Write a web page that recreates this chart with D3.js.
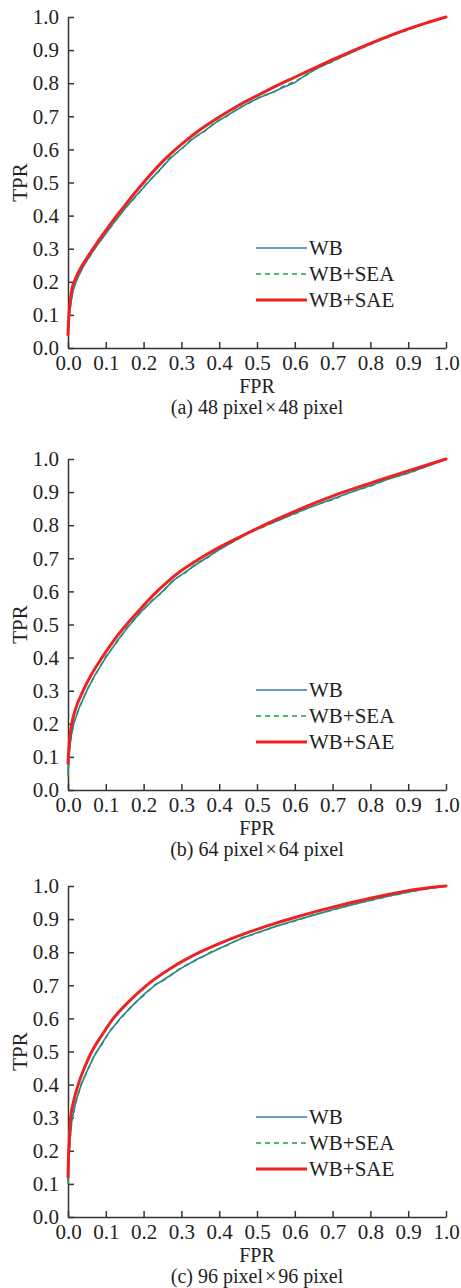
<!DOCTYPE html>
<html>
<head>
<meta charset="utf-8">
<script src="https://cdn.jsdelivr.net/npm/d3@7"></script>
<style>
	body { margin: 0; background: #fff; }
	svg text { font-family: "Liberation Serif", "Times New Roman", serif; fill: #222; }
	.axis path, .axis line { stroke: #333; stroke-width: 1.5; }
	.axis text { font-size: 21px; }
</style>
</head>
<body>
<div id="chart"></div>
<script>

// tick labels
var tickVals = [0, 0.1, 0.2, 0.3, 0.4, 0.5, 0.6, 0.7, 0.8, 0.9, 1.0]
var seriesNames = ["WB", "WB+SEA", "WB+SAE"]
var capLetters = ["(a)", "(b)", "(c)"]
var capSizes = [48, 64, 96]

// (a) 48 x 48
var fprA_sae = [0, 0.002, 0.005, 0.01, 0.02, 0.035, 0.05, 0.075, 0.1, 0.125, 0.15, 0.175, 0.2, 0.25, 0.3, 0.35, 0.4, 0.45, 0.5, 0.55, 0.6, 0.65, 0.7, 0.75, 0.8, 0.85, 0.9, 0.95, 1.0]
var tprA_sae = [0.04, 0.09, 0.13, 0.175, 0.21, 0.245, 0.272, 0.315, 0.355, 0.394, 0.43, 0.466, 0.5, 0.563, 0.615, 0.66, 0.698, 0.732, 0.762, 0.791, 0.818, 0.845, 0.871, 0.896, 0.92, 0.943, 0.964, 0.983, 1.0]
var fprA_wb = [0, 0.003, 0.008, 0.015, 0.025, 0.04, 0.06, 0.08, 0.1, 0.12, 0.15, 0.18, 0.21, 0.24, 0.27, 0.3, 0.33, 0.36, 0.39, 0.42, 0.45, 0.48, 0.51, 0.54, 0.57, 0.6, 0.63, 0.66, 0.7, 0.75, 0.8, 0.85, 0.9, 0.95, 1.0]
var tprA_wb = [0.05, 0.1, 0.14, 0.18, 0.21, 0.245, 0.282, 0.315, 0.345, 0.377, 0.42, 0.46, 0.498, 0.535, 0.572, 0.602, 0.632, 0.655, 0.68, 0.702, 0.722, 0.742, 0.758, 0.772, 0.788, 0.802, 0.826, 0.845, 0.867, 0.893, 0.918, 0.941, 0.962, 0.982, 1.0]
var tprA_sea = [0.04, 0.1, 0.142, 0.182, 0.212, 0.247, 0.28, 0.317, 0.347, 0.375, 0.422, 0.458, 0.5, 0.533, 0.575, 0.6, 0.634, 0.653, 0.683, 0.7, 0.724, 0.74, 0.76, 0.77, 0.791, 0.805, 0.824, 0.847, 0.865, 0.894, 0.917, 0.942, 0.961, 0.982, 1.0]

// (b) 64 x 64
var fprB_sae = [0, 0.002, 0.005, 0.01, 0.02, 0.04, 0.06, 0.09, 0.12, 0.155, 0.19, 0.225, 0.26, 0.3, 0.35, 0.4, 0.45, 0.5, 0.55, 0.6, 0.65, 0.7, 0.75, 0.8, 0.85, 0.9, 0.95, 1.0]
var tprB_sae = [0.08, 0.12, 0.16, 0.2, 0.245, 0.3, 0.345, 0.4, 0.45, 0.5, 0.545, 0.588, 0.626, 0.663, 0.7, 0.733, 0.762, 0.79, 0.817, 0.842, 0.866, 0.888, 0.908, 0.927, 0.946, 0.964, 0.982, 1.0]
var fprB_wb = [0, 0.003, 0.008, 0.015, 0.03, 0.05, 0.07, 0.1, 0.13, 0.16, 0.19, 0.22, 0.25, 0.28, 0.31, 0.34, 0.37, 0.4, 0.44, 0.48, 0.52, 0.56, 0.6, 0.65, 0.7, 0.75, 0.8, 0.85, 0.9, 0.95, 1.0]
var tprB_wb = [0.05, 0.11, 0.16, 0.2, 0.25, 0.3, 0.345, 0.4, 0.45, 0.494, 0.535, 0.568, 0.6, 0.634, 0.658, 0.682, 0.704, 0.726, 0.753, 0.777, 0.798, 0.816, 0.836, 0.858, 0.879, 0.9, 0.92, 0.94, 0.958, 0.978, 1.0]
var tprB_sea = [0.04, 0.11, 0.158, 0.203, 0.248, 0.302, 0.343, 0.403, 0.448, 0.496, 0.533, 0.57, 0.598, 0.636, 0.656, 0.685, 0.702, 0.728, 0.751, 0.779, 0.796, 0.818, 0.834, 0.86, 0.877, 0.901, 0.918, 0.941, 0.957, 0.978, 1.0]

// (c) 96 x 96
var fprC_sae = [0, 0.001, 0.003, 0.007, 0.015, 0.027, 0.045, 0.063, 0.09, 0.12, 0.16, 0.208, 0.27, 0.349, 0.4, 0.455, 0.5, 0.55, 0.6, 0.65, 0.7, 0.75, 0.8, 0.85, 0.9, 0.95, 1.0]
var tprC_sae = [0.12, 0.17, 0.22, 0.3, 0.35, 0.4, 0.455, 0.5, 0.55, 0.6, 0.65, 0.7, 0.75, 0.8, 0.826, 0.851, 0.869, 0.888, 0.905, 0.921, 0.936, 0.95, 0.963, 0.975, 0.986, 0.994, 1.0]
var fprC_wb = [0, 0.002, 0.005, 0.01, 0.02, 0.035, 0.05, 0.07, 0.09, 0.11, 0.14, 0.17, 0.2, 0.23, 0.26, 0.3, 0.34, 0.38, 0.42, 0.46, 0.5, 0.55, 0.6, 0.65, 0.7, 0.75, 0.8, 0.85, 0.9, 0.95, 1.0]
var tprC_wb = [0.11, 0.17, 0.23, 0.29, 0.345, 0.4, 0.44, 0.488, 0.525, 0.56, 0.603, 0.638, 0.672, 0.7, 0.722, 0.752, 0.778, 0.8, 0.822, 0.842, 0.859, 0.878, 0.896, 0.912, 0.928, 0.943, 0.957, 0.97, 0.982, 0.992, 1.0]
var tprC_sea = [0.1, 0.165, 0.228, 0.292, 0.343, 0.402, 0.438, 0.49, 0.522, 0.562, 0.6, 0.64, 0.669, 0.702, 0.72, 0.754, 0.776, 0.802, 0.82, 0.844, 0.857, 0.879, 0.894, 0.913, 0.927, 0.944, 0.956, 0.97, 0.981, 0.992, 1.0]

var colors = ["#2e78b7", "#1aa14a", "#ee2222"]

function zipPts (xs, ys) {
	return xs.map((x, i) => ({fpr: x, tpr: ys[i]}))
}

var panels = [
	{top: 17, wb: zipPts(fprA_wb, tprA_wb), sea: zipPts(fprA_wb, tprA_sea), sae: zipPts(fprA_sae, tprA_sae)},
	{top: 459, wb: zipPts(fprB_wb, tprB_wb), sea: zipPts(fprB_wb, tprB_sea), sae: zipPts(fprB_sae, tprB_sae)},
	{top: 886, wb: zipPts(fprC_wb, tprC_wb), sea: zipPts(fprC_wb, tprC_sea), sae: zipPts(fprC_sae, tprC_sae)}
]

var svg = d3.select("#chart")
	.append("svg")
	.attr("width", 461)
	.attr("height", 1288)

var margin = {left: 68},
    width = 378,
    height = 331

for (var i = 0 ; i < panels.length ; i++) {
	makePanel(panels[i], i)
}

function makePanel (p, num) {

	var g = svg.append("g")
		.attr("transform", "translate(" + margin.left + "," + p.top + ")")

	var x_scale = d3.scaleLinear().domain([0, 1]).range([0, width])
	var y_scale = d3.scaleLinear().domain([0, 1]).range([height, 0])

	// axes, ticks pointing inward
	g.append("g")
		.attr("class", "axis")
		.attr("transform", "translate(0," + height + ")")
		.call(d3.axisBottom(x_scale).tickValues(tickVals).tickFormat(d3.format(".1f"))
			.tickSizeInner(-6).tickSizeOuter(0).tickPadding(7))

	g.append("g")
		.attr("class", "axis")
		.call(d3.axisLeft(y_scale).tickValues(tickVals).tickFormat(d3.format(".1f"))
			.tickSizeInner(-6).tickSizeOuter(0).tickPadding(9))

	g.selectAll(".axis text").attr("fill", "#222")
	g.selectAll(".axis .domain").attr("stroke", "#333")

	g.append("text")
		.attr("transform", "translate(-41," + (height / 2) + ") rotate(-90)")
		.attr("text-anchor", "middle")
		.style("font-size", "21px")
		.text("TPR")

	g.append("text")
		.attr("x", width / 2)
		.attr("y", height + 45)
		.attr("text-anchor", "middle")
		.style("font-size", "20px")
		.text("FPR")

	var cap = g.append("text")
		.attr("x", width / 2)
		.attr("y", height + 66)
		.attr("text-anchor", "middle")
		.style("font-size", "20px")
	cap.append("tspan").text(capLetters[num] + " " + capSizes[num] + " pixel")
	cap.append("tspan").attr("dx", 2).text("×")
	cap.append("tspan").attr("dx", 2).text(capSizes[num] + " pixel")

	var line = d3.line()
		.x(d => x_scale(d.fpr))
		.y(d => y_scale(d.tpr))

	var smooth = d3.line()
		.x(d => x_scale(d.fpr))
		.y(d => y_scale(d.tpr))
		.curve(d3.curveMonotoneX)

	g.append("path")
		.attr("d", line(p.wb))
		.attr("fill", "none")
		.attr("stroke", colors[0])
		.attr("stroke-width", 1.6)

	g.append("path")
		.attr("d", line(p.sea))
		.attr("fill", "none")
		.attr("stroke", colors[1])
		.attr("stroke-width", 1.6)
		.attr("stroke-dasharray", "5,4")

	g.append("path")
		.attr("d", smooth(p.sae))
		.attr("fill", "none")
		.attr("stroke", colors[2])
		.attr("stroke-width", 3)
		.attr("stroke-linecap", "round")

	// legend
	var leg = g.append("g")
		.attr("transform", "translate(" + (256 - margin.left) + ",231)")

	seriesNames.forEach((name, k) => {
		leg.append("line")
			.attr("x1", 0).attr("x2", 51)
			.attr("y1", k * 26).attr("y2", k * 26)
			.attr("stroke", colors[k])
			.attr("stroke-width", k == 2 ? 3 : 1.6)
			.attr("stroke-dasharray", k == 1 ? "5,4" : null)
		leg.append("text")
			.attr("x", 53)
			.attr("y", k * 26 + 7)
			.style("font-size", "21px")
			.text(name)
	})
}

</script>
</body>
</html>
